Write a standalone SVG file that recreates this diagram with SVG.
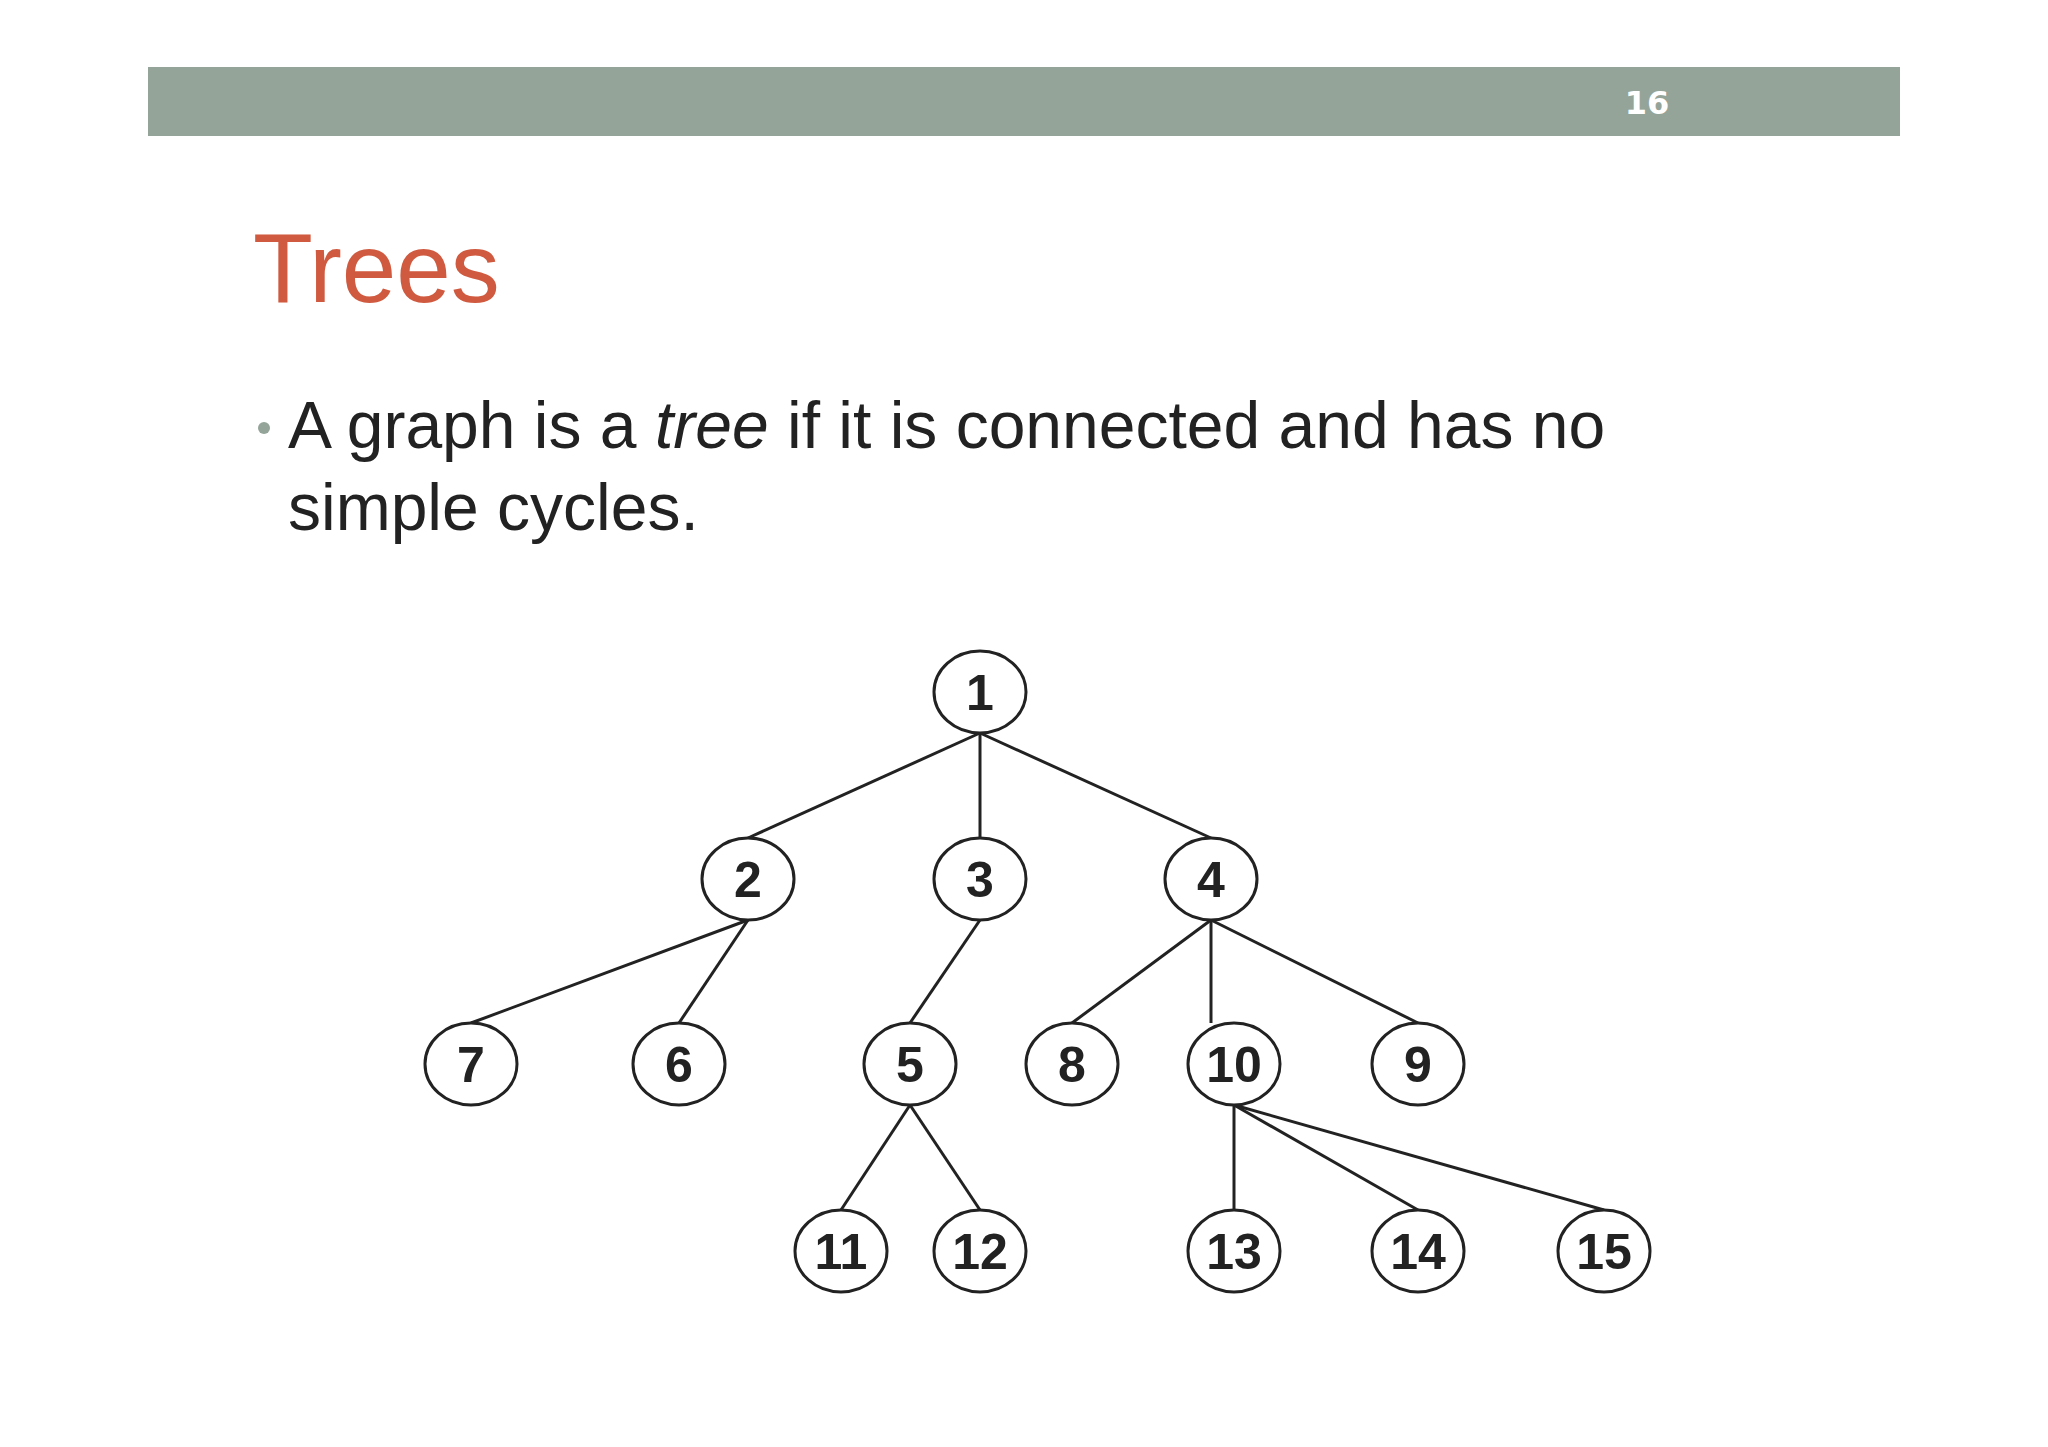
<svg xmlns="http://www.w3.org/2000/svg" width="2048" height="1447" viewBox="0 0 2048 1447">
<style>
.n ellipse{fill:#fff;stroke:#222;stroke-width:3}
.n text{font-family:"Liberation Sans",Arial,sans-serif;font-weight:bold;font-size:50px;fill:#222;text-anchor:middle}
#edges line{stroke:#222;stroke-width:3}
</style>
<rect width="2048" height="1447" fill="#fff"/>
<rect x="148" y="67" width="1752" height="69" fill="#94a498"/>
<text x="1647" y="114" font-family="Verdana,'DejaVu Sans',sans-serif" font-weight="bold" font-size="32" fill="#fff" text-anchor="middle">16</text>
<text x="253" y="302" font-family="'Liberation Sans',Arial,sans-serif" font-size="98" fill="#d05a3f">Trees</text>
<circle cx="264" cy="428" r="6" fill="#94a498"/>
<text font-family="'Liberation Sans',Arial,sans-serif" font-size="66" fill="#222"><tspan x="288" y="448">A graph is a <tspan font-style="italic">tree</tspan> if it is connected and has no</tspan><tspan x="288" y="530">simple cycles.</tspan></text>
<g id="edges">
<line x1="980" y1="733" x2="748" y2="838"/><line x1="980" y1="733" x2="980" y2="838"/><line x1="980" y1="733" x2="1211" y2="838"/>
<line x1="748" y1="920" x2="471" y2="1023"/><line x1="748" y1="920" x2="679" y2="1023"/>
<line x1="980" y1="920" x2="910" y2="1023"/>
<line x1="1211" y1="920" x2="1072" y2="1023"/><line x1="1211" y1="920" x2="1211" y2="1023"/><line x1="1211" y1="920" x2="1418" y2="1023"/>
<line x1="910" y1="1105" x2="841" y2="1210"/><line x1="910" y1="1105" x2="980" y2="1210"/>
<line x1="1234" y1="1105" x2="1234" y2="1210"/><line x1="1234" y1="1105" x2="1418" y2="1210"/><line x1="1234" y1="1105" x2="1604" y2="1210"/>
</g>
<g id="n1" class="n"><ellipse cx="980" cy="692" rx="46" ry="41"/><text x="980" y="710">1</text></g>
<g id="n2" class="n"><ellipse cx="748" cy="879" rx="46" ry="41"/><text x="748" y="897">2</text></g>
<g id="n3" class="n"><ellipse cx="980" cy="879" rx="46" ry="41"/><text x="980" y="897">3</text></g>
<g id="n4" class="n"><ellipse cx="1211" cy="879" rx="46" ry="41"/><text x="1211" y="897">4</text></g>
<g id="n7" class="n"><ellipse cx="471" cy="1064" rx="46" ry="41"/><text x="471" y="1082">7</text></g>
<g id="n6" class="n"><ellipse cx="679" cy="1064" rx="46" ry="41"/><text x="679" y="1082">6</text></g>
<g id="n5" class="n"><ellipse cx="910" cy="1064" rx="46" ry="41"/><text x="910" y="1082">5</text></g>
<g id="n8" class="n"><ellipse cx="1072" cy="1064" rx="46" ry="41"/><text x="1072" y="1082">8</text></g>
<g id="n10" class="n"><ellipse cx="1234" cy="1064" rx="46" ry="41"/><text x="1234" y="1082">10</text></g>
<g id="n9" class="n"><ellipse cx="1418" cy="1064" rx="46" ry="41"/><text x="1418" y="1082">9</text></g>
<g id="n11" class="n"><ellipse cx="841" cy="1251" rx="46" ry="41"/><text x="841" y="1269">11</text></g>
<g id="n12" class="n"><ellipse cx="980" cy="1251" rx="46" ry="41"/><text x="980" y="1269">12</text></g>
<g id="n13" class="n"><ellipse cx="1234" cy="1251" rx="46" ry="41"/><text x="1234" y="1269">13</text></g>
<g id="n14" class="n"><ellipse cx="1418" cy="1251" rx="46" ry="41"/><text x="1418" y="1269">14</text></g>
<g id="n15" class="n"><ellipse cx="1604" cy="1251" rx="46" ry="41"/><text x="1604" y="1269">15</text></g>
</svg>
